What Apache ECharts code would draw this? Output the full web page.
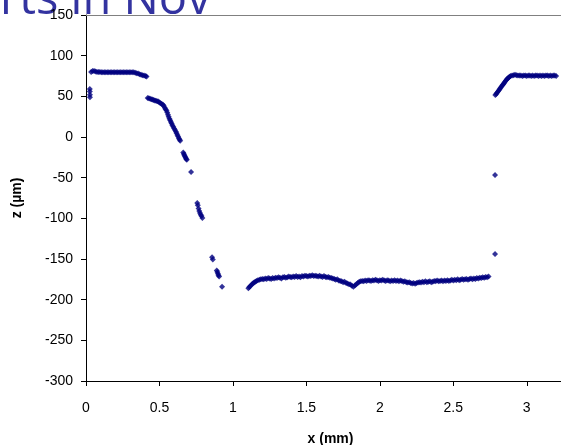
<!DOCTYPE html>
<html><head><meta charset="utf-8">
<script src="https://cdn.jsdelivr.net/npm/echarts@6/dist/echarts.min.js"></script>
<style>html,body{margin:0;padding:0;background:#fff}#c{width:561px;height:445px}</style>
</head><body><div id="c"></div>
<script>
// Data (x in mm, z in µm)
var edgeX = [0.026, 0.026, 0.027, 0.027];
var edgeZ = [59, 56, 52, 49];

var leftTopX = [0.035,0.045,0.055,0.065,0.075,0.085,0.095,0.105,0.115,0.125,0.135,0.145,0.155,0.165,0.175,0.185,0.195,0.205,0.215,0.225,0.235,0.245,0.255,0.265,0.275,0.285,0.295,0.305,0.315,0.325,0.335,0.345,0.355,0.365,0.375,0.385,0.395,0.405,0.412];
var leftTopZ = [80,81,81,80.5,80,80,80,79.5,79.5,79.5,79.5,79.5,79.5,79.5,79.5,79.5,79.5,79.5,79.5,79.5,79.5,79.5,79.5,79.5,79.5,79.5,79.5,79.5,79.5,79.5,79,78.5,78,77,76.5,76,75.5,75,74.5];

var slopeX = [0.420,0.428,0.436,0.444,0.452,0.460,0.468,0.476,0.484,0.492,0.500,0.508,0.516,0.524,0.530,0.536,0.542,0.548,0.553,0.558,0.563,0.568,0.573,0.578,0.583,0.588,0.594,0.600,0.606,0.612,0.617,0.622,0.627,0.632,0.637,0.641,
  0.662,0.666,0.670,0.674,0.678,0.682,0.686,
  0.715,
  0.757,0.761,0.766,0.771,0.776,0.781,0.786,0.792,
  0.858,0.863,
  0.890,0.894,0.898,0.902,0.906,
  0.926];
var slopeZ = [48,47.5,47,46.5,46,45.5,45,44.5,44,43.5,42.5,41.5,40.5,39.5,38,36,34,32.5,30,27.5,25,22.5,20.5,18.5,16.5,14.5,12.5,10.5,8.5,6.5,4.5,2.5,0.5,-1.5,-3,-4.5,
  -19,-21,-22.5,-24,-25.5,-27,-28,
  -43,
  -81,-84,-88,-91,-93.5,-95.5,-97,-99.5,
  -148,-150.5,
  -164,-166,-168,-170,-171.5,
  -184];

var floorX = [1.105,1.112,1.120,1.128,1.136,1.144,1.152,1.160,1.170,1.180,1.190,1.200,1.210,1.220,1.230,1.240,1.250,1.260,1.270,1.280,1.290,1.300,1.310,1.320,1.330,1.340,1.350,1.360,1.370,1.380,1.390,1.400,1.410,1.420,1.430,1.440,1.450,1.460,1.470,1.480,1.490,1.500,1.510,1.520,1.530,1.540,1.550,1.560,1.570,1.580,1.590,1.600,1.610,1.620,1.630,1.640,1.650,1.660,1.670,1.680,1.690,1.700,1.710,1.720,1.730,1.740,1.750,1.760,1.770,1.780,1.790,1.800,1.810,1.820,1.830,1.840,1.850,1.860,1.870,1.880,1.890,1.900,1.910,1.920,1.930,1.940,1.950,1.960,1.970,1.980,1.990,2.000,2.010,2.020,2.030,2.040,2.050,2.060,2.070,2.080,2.090,2.100,2.110,2.120,2.130,2.140,2.150,2.160,2.170,2.180,2.190,2.200,2.210,2.220,2.230,2.240,2.250,2.260,2.270,2.280,2.290,2.300,2.310,2.320,2.330,2.340,2.350,2.360,2.370,2.380,2.390,2.400,2.410,2.420,2.430,2.440,2.450,2.460,2.470,2.480,2.490,2.500,2.510,2.520,2.530,2.540,2.550,2.560,2.570,2.580,2.590,2.600,2.610,2.620,2.630,2.640,2.650,2.660,2.670,2.680,2.690,2.700,2.710,2.720,2.730,2.740];
var floorZ = [-186,-184.5,-183,-181.5,-180,-179,-178,-177,-176,-175.5,-175,-174.5,-175,-174,-174.5,-173.5,-174,-174.5,-173.5,-174,-173,-173.5,-172.5,-173,-174,-172.5,-172,-173,-172.5,-171.5,-172,-172.5,-171.5,-172,-171,-172,-171.5,-172.5,-171,-171.5,-170.5,-171,-171.5,-170.5,-171,-170,-171,-170.5,-171,-171.5,-170.5,-171.5,-172,-171,-172,-172.5,-172,-173,-173.5,-174,-174.5,-175.5,-175,-176.5,-177,-177.5,-178.5,-178,-179.5,-180,-181,-181.5,-183,-184,-182.5,-181,-179.5,-178,-177.5,-177,-177.5,-176.5,-177,-176,-176.5,-177,-176,-176.5,-175.5,-176,-177,-176,-176.5,-175.5,-176.5,-177,-176,-176.5,-177.5,-176.5,-177,-176,-177,-176.5,-177.5,-176.5,-177,-178,-177.5,-178.5,-179,-178.5,-179.5,-180,-179.5,-180.5,-179.5,-179,-178.5,-179,-178,-178.5,-177.5,-178.5,-178,-177.5,-178.5,-178,-177,-177.5,-176.5,-177.5,-177,-176.5,-177.5,-176.5,-177,-176,-177,-176.5,-175.5,-176.5,-175.5,-176,-175,-176,-175.5,-174.5,-175.5,-175,-174.5,-175.5,-174.5,-174,-175,-174,-174.5,-173.5,-174,-173,-173.5,-172.5,-173,-172,-172.5,-171.5];

var rightX = [2.784,2.784,2.786,2.792,2.798,2.804,2.810,2.816,2.822,2.828,2.834,2.840,2.846,2.852,2.858,2.864,2.870,2.876,2.882,2.890,2.900,2.910,2.920,2.930,2.940,2.950,2.960,2.970,2.980,2.990,3.000,3.010,3.020,3.030,3.040,3.050,3.060,3.070,3.080,3.090,3.100,3.110,3.120,3.130,3.140,3.150,3.160,3.170,3.180,3.190,3.200];
var rightZ = [-144,-46.7,51.5,53,54.5,56,57.5,59,60.5,62,63.5,65,66.5,68,69.5,71,72,73,74,75,75.5,76,76.5,76,75.5,75.5,75.5,75,75.5,75.5,75,75.5,75.5,75,75.5,75,75.5,75.5,75,75.5,75,75.5,75,75.5,75.5,75,75.5,75,75.5,75.5,75];

var xTicks = {min: 0, max: 3.233, interval: 0.5};
var yTicks = {min: -300, max: 150, interval: 50};

function pairs(xs, zs){ var o=[]; for (var i=0;i<xs.length;i++) o.push([xs[i], zs[i]]); return o; }
var allData = [].concat(pairs(edgeX,edgeZ), pairs(leftTopX,leftTopZ), pairs(slopeX,slopeZ), pairs(floorX,floorZ), pairs(rightX,rightZ));

var chart = echarts.init(document.getElementById('c'), null, {renderer:'canvas'});
var font = 'Liberation Sans, Arial, sans-serif';
chart.setOption({
  animation: false,
  backgroundColor: '#fff',
  graphic: [{
    type: 'text', left: 0, top: -23, z: 0,
    style: { text: 'rts in Nov', font: '47px "Open Sans", sans-serif', fill: '#3333a0' }
  }],
  grid: { left: 86, top: 15, right: 0, bottom: 64, show: false, containLabel: false, outerBoundsMode: 'none' },
  xAxis: [{
    type: 'value', min: xTicks.min, max: xTicks.max, interval: xTicks.interval,
    name: 'x (mm)', nameLocation: 'middle', nameGap: 51,
    nameTextStyle: { fontFamily: font, fontSize: 14, fontWeight: 'bold', color: '#000', padding: [0, 0, 0, 14] },
    axisLine: { show: true, onZero: false, lineStyle: { color: '#000', width: 1 } },
    axisTick: { show: true, inside: false, length: 5, lineStyle: { color: '#000' } },
    axisLabel: { fontFamily: font, fontSize: 14, color: '#000', margin: 20, showMaxLabel: false },
    splitLine: { show: false }
  }, {
    type: 'value', position: 'top', min: xTicks.min, max: xTicks.max, interval: xTicks.interval,
    axisLine: { show: true, onZero: false, lineStyle: { color: '#808080', width: 1 } },
    axisTick: { show: false }, axisLabel: { show: false }, splitLine: { show: false }
  }],
  yAxis: {
    type: 'value', min: yTicks.min, max: yTicks.max, interval: yTicks.interval,
    name: 'z (µm)', nameLocation: 'middle', nameGap: 62, nameRotate: 90,
    nameTextStyle: { fontFamily: font, fontSize: 14, fontWeight: 'bold', color: '#000' },
    axisLine: { show: true, onZero: false, lineStyle: { color: '#000', width: 1 } },
    axisTick: { show: true, inside: false, length: 5, lineStyle: { color: '#000' } },
    axisLabel: { fontFamily: font, fontSize: 14, color: '#000', margin: 13 },
    splitLine: { show: false }
  },
  series: [{
    type: 'scatter', symbol: 'diamond', symbolSize: 6,
    itemStyle: { color: '#000080' },
    data: allData
  }]
});
</script></body></html>
